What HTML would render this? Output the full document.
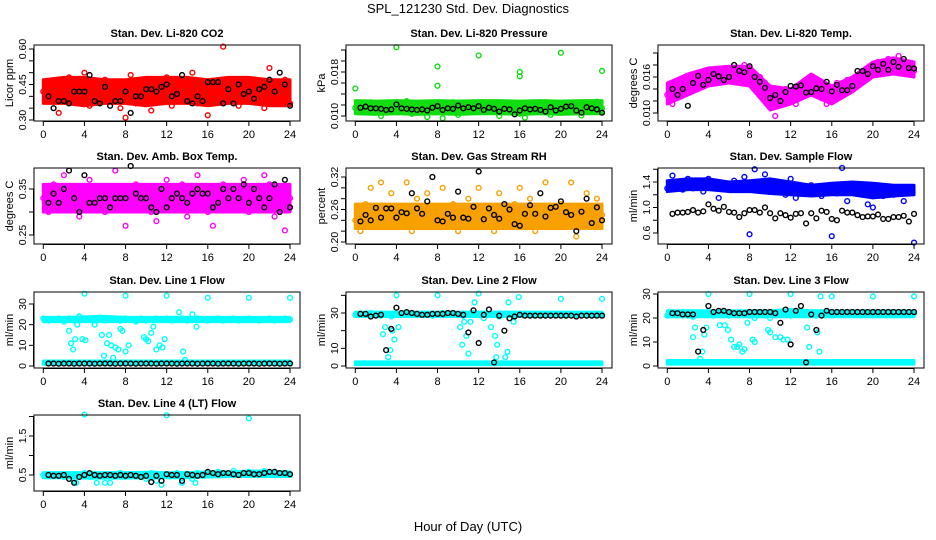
<!DOCTYPE html>
<html><head><meta charset="utf-8"><style>
html,body{margin:0;padding:0;background:#fff;}
svg{display:block;font-family:"Liberation Sans",sans-serif;}
</style></head><body>
<svg id="chart" width="936" height="540" viewBox="0 0 936 540">
<text x="468" y="13" text-anchor="middle" font-size="13">SPL_121230  Std. Dev. Diagnostics</text>
<text x="468" y="531" text-anchor="middle" font-size="13">Hour of Day (UTC)</text>
</svg>
<script>
const bandHours=[0,2,4,6,8,10,12,14,16,18,20,22,24];
// CO2
const co2BandLo=[.37,.37,.36,.37,.37,.36,.37,.37,.36,.37,.37,.36,.36];
const co2BandHi=[.47,.48,.48,.47,.47,.48,.48,.48,.47,.48,.48,.47,.47];
const co2Pts=[.42,.39,.46,.33,.44,.48,.38,.41,.50,.36,.43,.40,.47,.38,.44,.35,.31,.49,.37,.43,.46,.34,.40,.44,.48,.36,.42,.45,.39,.50,.37,.43,.32,.46,.40,.61,.38,.44,.36,.47,.42,.39,.45,.35,.52,.41,.38,.47,.37];
const co2Black=[.40,.35,.38,.38,.37,.42,.42,.42,.49,.38,.37,.44,.36,.38,.38,.42,.33,.40,.40,.43,.43,.42,.44,.45,.40,.41,.49,.38,.37,.40,.38,.46,.46,.46,.37,.43,.37,.45,.41,.42,.39,.43,.44,.47,.42,.50,.45,.36];
// Pressure
const prBandLo=[.0104,.0103,.0104,.0103,.0104,.0103,.0104,.0104,.0103,.0104,.0103,.0104,.0104];
const prBandHi=[.0128,.0127,.0128,.0127,.0128,.0127,.0128,.0128,.0127,.0128,.0127,.0128,.0128];
const prPts=[.0115,.0120,.0110,.0125,.0112,.0100,.0118,.0123,.0108,.0114,.0127,.0104,.0116,.0111,.0098,.0120,.0113,.0096,.0117,.0125,.0102,.0119,.0110,.0122,.0114,.0107,.0121,.0116,.0100,.0124,.0112,.0118,.0104,.0097,.0120,.0115,.0109,.0125,.0102,.0113,.0120,.0108,.0116,.0124,.0101,.0118,.0110,.0126,.0114];
const prBlack=[.0115,.0117,.0114,.0114,.0113,.0111,.0112,.0121,.0114,.0113,.0112,.0111,.0112,.0110,.0115,.0118,.0111,.0114,.0113,.0119,.0114,.0116,.0114,.0118,.0111,.0115,.0113,.0108,.0113,.0112,.0103,.0110,.0114,.0112,.0113,.0111,.0108,.0116,.0110,.0113,.0117,.0118,.0110,.0106,.0116,.0114,.0112,.0106];
const prOutX=[0,4,8,8,12,16,16,20,24];
const prOutY=[.0150,.0225,.0190,.0155,.0210,.0180,.0172,.0215,.0182];
// Li-820 Temp
const tBandLo=[.0115,.0130,.0145,.0150,.0145,.0105,.0115,.0130,.0115,.0135,.0160,.0165,.0160];
const tBandHi=[.0150,.0165,.0175,.0178,.0178,.0145,.0140,.0165,.0145,.0160,.0185,.0192,.0185];
const tPts=[.0130,.0115,.0150,.0135,.0145,.0160,.0150,.0165,.0160,.0170,.0165,.0160,.0170,.0175,.0165,.0180,.0170,.0165,.0160,.0150,.0130,.0095,.0125,.0140,.0120,.0115,.0140,.0150,.0160,.0145,.0125,.0115,.0140,.0150,.0135,.0155,.0150,.0160,.0165,.0175,.0180,.0185,.0175,.0190,.0180,.0195,.0185,.0175,.0170];
const tBlack=[.0140,.0130,.0140,.0112,.0150,.0162,.0147,.0155,.0165,.0161,.0155,.0160,.0180,.0170,.0168,.0178,.0160,.0152,.0142,.0125,.0130,.0120,.0135,.0145,.0144,.0146,.0134,.0135,.0141,.0140,.0152,.0136,.0147,.0138,.0138,.0145,.0170,.0170,.0165,.0178,.0172,.0182,.0172,.0185,.0177,.0190,.0175,.0174];
// Amb box temp
const abBandLo=[.30,.30,.30,.30,.30,.30,.30,.30,.30,.30,.30,.30,.30];
const abBandHi=[.36,.36,.36,.36,.36,.36,.36,.36,.36,.36,.36,.36,.36];
const abPts=[.33,.30,.36,.34,.38,.31,.35,.29,.33,.37,.32,.35,.30,.34,.39,.31,.27,.33,.36,.32,.35,.30,.28,.34,.37,.31,.33,.36,.29,.35,.38,.32,.30,.27,.34,.36,.31,.35,.33,.37,.30,.34,.32,.38,.36,.29,.31,.26,.33];
const abBlack=[.32,.34,.32,.35,.39,.33,.30,.38,.32,.32,.33,.33,.31,.33,.33,.33,.40,.34,.33,.33,.31,.30,.35,.31,.33,.34,.33,.32,.34,.35,.34,.34,.31,.32,.35,.33,.35,.33,.36,.32,.35,.33,.31,.33,.36,.30,.37,.31];
// Gas stream RH
const rhBandLo=[.225,.225,.225,.225,.225,.225,.225,.225,.225,.225,.225,.225,.225];
const rhBandHi=[.27,.27,.27,.27,.27,.27,.27,.27,.27,.27,.27,.27,.27];
const rhPts=[.24,.22,.27,.30,.25,.31,.23,.29,.26,.24,.31,.22,.28,.25,.29,.23,.26,.30,.24,.27,.22,.25,.28,.23,.30,.24,.26,.22,.29,.25,.23,.27,.30,.24,.28,.22,.26,.31,.23,.25,.27,.24,.31,.21,.26,.29,.23,.28,.25];
const rhBlack=[.238,.25,.24,.263,.245,.262,.262,.245,.255,.253,.29,.262,.252,.275,.32,.24,.238,.252,.245,.293,.245,.243,.265,.33,.242,.262,.25,.243,.27,.26,.233,.23,.252,.268,.252,.29,.247,.263,.265,.275,.255,.25,.22,.256,.28,.235,.264,.24];
// Sample flow
const sfBandLo=[1.25,1.28,1.28,1.25,1.25,1.22,1.2,1.18,1.2,1.2,1.15,1.18,1.2];
const sfBandHi=[1.42,1.45,1.45,1.40,1.42,1.45,1.40,1.35,1.38,1.40,1.38,1.35,1.35];
const sfPts=[1.3,1.5,1.35,1.28,1.45,1.3,1.4,1.25,1.45,1.32,1.15,1.38,1.3,1.42,1.28,1.48,0.58,1.6,1.3,1.52,1.35,1.25,1.3,1.2,1.45,1.15,1.22,1.3,1.35,1.25,1.18,1.3,0.55,1.22,1.62,1.1,1.28,1.35,1.2,1.05,1.0,1.32,1.18,1.25,1.2,1.3,1.1,1.22,0.45];
const sfBlack=[.90,.92,.92,.93,.96,.92,.94,1.05,.98,.95,1.01,.93,.92,.85,.91,.96,.96,.92,1.00,.91,.83,.91,.88,.84,.90,.91,.75,.91,.83,.95,.93,.82,.80,.95,.92,.92,.88,.85,.86,.86,.89,.82,.82,.85,.85,.87,.78,.90];
// Line 1
const l1BandLo=[21.5,21.5,21.5,21.5,21.5,21.5,21.5,21.5,21.5,21.5,21.5,21.5,21.5];
const l1BandHi=[23.5,23.5,23.8,24,23.5,23.5,23.5,23.5,23.5,23.5,23.5,23.5,23.5];
const l1LowLo=[0.8,0.8,0.8,0.8,0.8,0.8,0.8,0.8,0.8,0.8,0.8,0.8,0.8];
const l1LowHi=[2.4,2.4,2.4,2.4,2.4,2.4,2.4,2.4,2.4,2.4,2.4,2.4,2.4];
const l1Pts=[23,22,22.5,23,21.5,23,22,24,23,22.5,22,23.5,22,22.5,23,22,23,22.5,21.5,23,22,22.5,23,22.5,23,22,22.5,23,22,22.5,23,22.5,22,22.5,23,22,22.5,23,22,22.5,23,22.5,22,22.5,23,22,22.5,23,22.5];
const l1Black=[1.2,1.2,1.1,1.2,1.2,1.1,1.2,1.2,1.2,1.1,1.2,1.2,1.2,1.1,1.2,1.2,1.2,1.1,1.2,1.2,1.2,1.1,1.2,1.2,1.2,1.1,1.2,1.2,1.2,1.1,1.2,1.2,1.2,1.1,1.2,1.2,1.2,1.1,1.2,1.2,1.2,1.1,1.2,1.2,1.2,1.1,1.2,1.2];
const l1OutX=[2.5,2.7,2.9,3.1,3.3,4,4.1,3.8,5,5.7,5.9,6.2,6.4,6.6,6.8,7,7.3,7.5,7.7,8,8,8.3,9.8,10,10.2,10.5,10.7,11,11.3,11.6,11.8,12,13.2,13.6,13.8,14.5,14.9,16,20,24];
const l1OutY=[17,11,8,13,20,35,12.5,13,20,15,5,11,15,10,4,9,8,18,17,34,7,10,14,13,12,16,19,8,10,9,13,34,26,7,3,25,19,33,33,33];
// Line 2
const l2BandLo=[28,28,28,28,28,28,28,28,28,28,28,28,28];
const l2BandHi=[30.5,30.5,30.5,30.5,30.5,30.5,30.5,30.5,30.5,30.5,30.5,30.5,30.5];
const l2LowLo=[0.8,0.8,0.8,0.8,0.8,0.8,0.8,0.8,0.8,0.8,0.8,0.8,0.8];
const l2LowHi=[2.3,2.3,2.3,2.3,2.3,2.3,2.3,2.3,2.3,2.3,2.3,2.3,2.3];
const l2Pts=[29,29.5,29,30,29,28.5,29,28,29.5,29,29,30,29,29.5,29,28.5,29,30,29,29.5,29,28.5,29,30,29,27,29.5,29,28,29,29.5,28.5,29,29,29.5,29,28.5,29,29,29.5,29,28.5,29,29,29.5,29,28.5,29,29];
const l2Black=[29.5,29.5,28,28.5,29,9,21,33,30,30.5,30,29.5,29,29,29.5,29.5,29.5,30,30,29.5,29,19,31.5,13,29,32,2,28.5,20,27,28,29,28.5,28.5,28.5,28.5,28.5,28.5,28.5,28.5,28.5,28.5,28,28.5,28.5,28.5,28.5,28.5];
const l2OutX=[2.7,2.9,3.2,3.4,3.6,3.8,4,4.2,8,10.2,10.4,10.6,10.8,11,11.2,11.6,12,13.2,13.6,13.8,13.7,14.6,14.8,14.9,15.4,15.9,20,24];
const l2OutY=[18,22,5,9,20,15,40,22,40,22,12,25,17,7,25,36,41,22,17,12,5,5,8,36,25,39,38,38];
// Line 3
const l3BandLo=[20.5,20.5,20.5,20.5,20.5,20.5,20.5,20.5,20.5,20.5,20.5,20.5,20.5];
const l3BandHi=[23,23,23,23,23,23,23.5,23,23,23,23,23,23];
const l3LowLo=[0.8,0.8,0.8,0.8,0.8,0.8,0.8,0.8,0.8,0.8,0.8,0.8,0.8];
const l3LowHi=[2.3,2.3,2.3,2.3,2.3,2.3,2.3,2.3,2.3,2.3,2.3,2.3,2.3];
const l3Pts=[21,22,21.5,22.5,21,20.5,22,21.5,22,21,22.5,21.5,21,22,21.5,22,21,20,22.5,21,20,22,21.5,22,21,23,22,21.5,22,21,22.5,21.5,22,22,21.5,22,21.5,22,22,21.5,22,21.5,22,22,21.5,22,21.5,22,22];
const l3Black=[22,22,21.5,21.5,21.5,6,15,25,22.5,23,23,22.5,22,22,22,22.5,22.5,22.5,22.5,22.5,22,18,23.5,9,23,25,1.5,21.5,15,21,23,22.5,22.5,22.5,22.5,22.5,22.5,22.5,22.5,22.5,22.5,22.5,22.5,22.5,22.5,22.5,22.5,22.5];
const l3OutX=[2.5,2.7,3.2,3.4,3.6,3.8,4,5.1,5.6,5.9,6.2,6.5,6.8,7,7.3,7.5,7.8,8,8.3,8.5,9.8,10,10.5,11,11.3,11.7,12,13.6,13.8,14.6,14.8,14.9,16,20,24];
const l3OutY=[12,16,3,6,13,16,30,17,17,15,11,8,8,9,6,7,18,30,11,10,15,14,12,12,11,11,30,16,8,14,6,29,29,29,29];
// Line 4
const l4BandLo=[.43,.43,.42,.42,.42,.43,.43,.43,.45,.46,.46,.46,.46];
const l4BandHi=[.56,.56,.56,.56,.56,.57,.56,.56,.58,.58,.6,.6,.58];
const l4Pts=[.5,.52,.48,.5,.45,.5,.35,.52,.55,.45,.5,.48,.3,.52,.5,.55,.48,.52,.5,.45,.4,.55,.35,.5,.52,.48,.55,.3,.5,.4,.55,.52,.55,.5,.58,.55,.52,.6,.55,.5,.58,.55,.52,.6,.55,.58,.52,.55,.5];
const l4Black=[.5,.48,.48,.5,.4,.3,.45,.5,.55,.5,.48,.5,.5,.48,.5,.48,.5,.48,.45,.48,.32,.48,.35,.52,.5,.5,.35,.52,.5,.48,.5,.58,.55,.52,.55,.55,.52,.5,.55,.55,.52,.52,.55,.58,.58,.55,.55,.52];
const l4OutX=[4,12,20,3.2,5.2,6.5,11.5,13.5,14.8];
const l4OutY=[2.05,2.03,1.95,.3,.3,.3,.25,.3,.3];

const xTicks=[0,4,8,12,16,20,24];
const halfHours=co2Pts.map((v,i)=>i*0.5);
const blackHours=co2Black.map((v,i)=>0.5+i*0.5);

const NS="http://www.w3.org/2000/svg";
const svg=document.getElementById('chart');
const X0=[43.3,355.3,667.3], XS=10.28, TOPS=[45,168,292,415], H=76;
function mk(tag,attrs,parent){const e=document.createElementNS(NS,tag);for(const k in attrs)e.setAttribute(k,attrs[k]);(parent||svg).appendChild(e);return e;}

function panel(p){
  const g=mk('g',{});
  
  
  const x0=X0[p.col], top=TOPS[p.row], bot=top+H, L=x0-9.3, R=x0+256.7;
  const xs=h=>x0+h*XS;
  const [v1,p1,v2,p2]=p.cal;
  const ys=v=>p1+(v-v1)*(p2-p1)/(v2-v1);
  const t=mk('text',{x:(L+R)/2,y:top-8,'text-anchor':'middle','font-size':11,'font-weight':'bold'},g);
  t.textContent=p.title;
  
  
  const yl=mk('text',{x:0,y:0,'text-anchor':'middle','font-size':11,transform:`translate(${L-21},${(top+bot)/2}) rotate(-90)`},g);
  yl.textContent=p.ylab;
  
  
  function band(lo,hi,name){
    let pts=bandHours.map((h,i)=>xs(h)+','+ys(hi[i]));
    pts=pts.concat(bandHours.map((h,i)=>xs(h)+','+ys(lo[i])).reverse());
    const b=mk('polygon',{points:pts.join(' '),fill:p.color,stroke:p.color,'stroke-width':3,'stroke-linejoin':'round'},g);
    
    
  }
  band(p.bandLo,p.bandHi,p.id+'-band');
  if(p.lowLo) band(p.lowLo,p.lowHi,p.id+'-low-band');
  function pt(h,v,col,name){
    const c=mk('circle',{cx:xs(h),cy:ys(v),r:2.4,fill:'none',stroke:col,'stroke-width':1.4},g);
    
    
  }
  p.pts.forEach((v,i)=>pt(halfHours[i],v,p.color,p.id+'-point'));
  if(p.outX) p.outX.forEach((h,i)=>pt(h,p.outY[i],p.color,p.id+'-outlier'));
  p.black.forEach((v,i)=>pt(blackHours[i],v,'#000',p.id+'-black-point'));
  const box=mk('rect',{x:L,y:top,width:R-L,height:H,fill:'none',stroke:'#000','stroke-width':1},g);
  
  
  xTicks.forEach(h=>{
    mk('line',{x1:xs(h),x2:xs(h),y1:bot,y2:bot+5,stroke:'#000'},g);
    const tl=mk('text',{x:xs(h),y:bot+17,'text-anchor':'middle','font-size':11},g);
    tl.textContent=h;
    
    
  });
  mk('line',{x1:xs(0),x2:xs(24),y1:bot+0.5,y2:bot+0.5,stroke:'#000'},g);
  p.ticks.forEach(v=>{
    mk('line',{x1:L-5,x2:L,y1:ys(v),y2:ys(v),stroke:'#000'},g);
  });
  mk('line',{x1:L-0.5,x2:L-0.5,y1:ys(p.ticks[0]),y2:ys(p.ticks[p.ticks.length-1]),stroke:'#000'},g);
  p.labels.forEach(s=>{
    const yy=ys(parseFloat(s));
    const tl=mk('text',{x:0,y:0,'text-anchor':'middle','font-size':10.5,transform:`translate(${L-8},${yy}) rotate(-90)`},g);
    tl.textContent=s;
    
    
  });
}

panel({id:'co2',col:0,row:0,title:'Stan. Dev. Li-820 CO2',ylab:'Licor ppm',cal:[.30,120,.60,49],ticks:[.30,.35,.40,.45,.50,.55,.60],labels:['0.30','0.45','0.60'],color:'#ff0000',bandLo:co2BandLo,bandHi:co2BandHi,pts:co2Pts,black:co2Black});
panel({id:'pressure',col:1,row:0,title:'Stan. Dev. Li-820 Pressure',ylab:'kPa',cal:[.010,116,.018,72],ticks:[.010,.012,.014,.016,.018,.020,.022],labels:['0.010','0.018'],color:'#11dd11',bandLo:prBandLo,bandHi:prBandHi,pts:prPts,black:prBlack,outX:prOutX,outY:prOutY});
panel({id:'li820-temp',col:2,row:0,title:'Stan. Dev. Li-820 Temp.',ylab:'degrees C',cal:[.010,113,.016,77],ticks:[.010,.012,.014,.016,.018,.020],labels:['0.010','0.016'],color:'#ff00ff',bandLo:tBandLo,bandHi:tBandHi,pts:tPts,black:tBlack});
panel({id:'amb-box-temp',col:0,row:1,title:'Stan. Dev. Amb. Box Temp.',ylab:'degrees C',cal:[.25,235,.35,189],ticks:[.25,.30,.35],labels:['0.25','0.35'],color:'#ff00ff',bandLo:abBandLo,bandHi:abBandHi,pts:abPts,black:abBlack});
panel({id:'gas-rh',col:1,row:1,title:'Stan. Dev. Gas Stream RH',ylab:'percent',cal:[.20,242,.32,177],ticks:[.20,.22,.24,.26,.28,.30,.32],labels:['0.20','0.26','0.32'],color:'#f7a000',bandLo:rhBandLo,bandHi:rhBandHi,pts:rhPts,black:rhBlack});
panel({id:'sample-flow',col:2,row:1,title:'Stan. Dev. Sample Flow',ylab:'ml/min',cal:[.6,233,1.4,182],ticks:[.6,.8,1.0,1.2,1.4,1.6],labels:['0.6','1.0','1.4'],color:'#0000ff',bandLo:sfBandLo,bandHi:sfBandHi,pts:sfPts,black:sfBlack});
panel({id:'line1-flow',col:0,row:2,title:'Stan. Dev. Line 1 Flow',ylab:'ml/min',cal:[0,366,30,304],ticks:[0,10,20,30],labels:['0','10','20','30'],color:'#00ffff',bandLo:l1BandLo,bandHi:l1BandHi,lowLo:l1LowLo,lowHi:l1LowHi,pts:l1Pts,black:l1Black,outX:l1OutX,outY:l1OutY});
panel({id:'line2-flow',col:1,row:2,title:'Stan. Dev. Line 2 Flow',ylab:'ml/min',cal:[0,366,30,313],ticks:[0,10,20,30,40],labels:['0','10','30'],color:'#00ffff',bandLo:l2BandLo,bandHi:l2BandHi,lowLo:l2LowLo,lowHi:l2LowHi,pts:l2Pts,black:l2Black,outX:l2OutX,outY:l2OutY});
panel({id:'line3-flow',col:2,row:2,title:'Stan. Dev. Line 3 Flow',ylab:'ml/min',cal:[0,366,30,294],ticks:[0,10,20,30],labels:['0','10','20','30'],color:'#00ffff',bandLo:l3BandLo,bandHi:l3BandHi,lowLo:l3LowLo,lowHi:l3LowHi,pts:l3Pts,black:l3Black,outX:l3OutX,outY:l3OutY});
panel({id:'line4-flow',col:0,row:3,title:'Stan. Dev. Line 4 (LT) Flow',ylab:'ml/min',cal:[.5,475,1.5,436],ticks:[.5,1.0,1.5,2.0],labels:['0.5','1.5'],color:'#00ffff',bandLo:l4BandLo,bandHi:l4BandHi,pts:l4Pts,black:l4Black,outX:l4OutX,outY:l4OutY});
</script>
</body></html>
